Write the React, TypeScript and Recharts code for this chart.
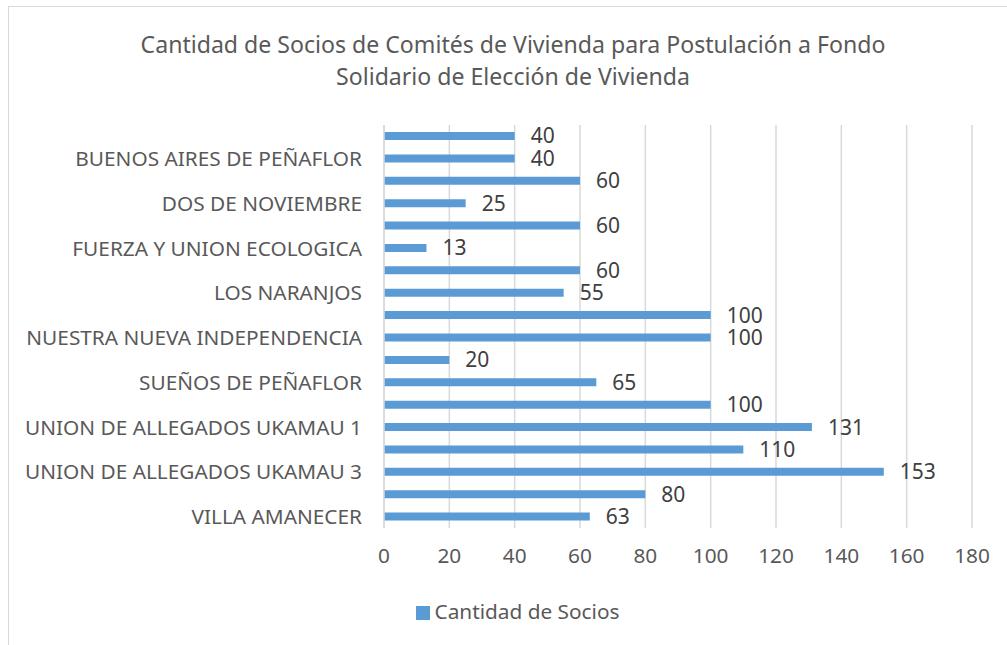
import React from "react";
import { BarChart, Bar, XAxis, YAxis, CartesianGrid, LabelList, Legend } from "recharts";

const categories = [
  "VILLA AMANECER",
  "UNION DE ALLEGADOS UKAMAU 4",
  "UNION DE ALLEGADOS UKAMAU 3",
  "UNION DE ALLEGADOS UKAMAU 2",
  "UNION DE ALLEGADOS UKAMAU 1",
  "UNIDOS POR UN SUEÑO",
  "SUEÑOS DE PEÑAFLOR",
  "PORVENIR",
  "NUESTRA NUEVA INDEPENDENCIA",
  "MI CASA PROPIA",
  "LOS NARANJOS",
  "LA ESPERANZA",
  "FUERZA Y UNION ECOLOGICA",
  "EL ESFUERZO",
  "DOS DE NOVIEMBRE",
  "CAMINO AL HOGAR",
  "BUENOS AIRES DE PEÑAFLOR",
  "ALTOS DE PEÑAFLOR",
];
const socios = [63, 80, 153, 110, 131, 100, 65, 20, 100, 100, 55, 60, 13, 60, 25, 60, 40, 40];
const xTicks = [0, 20, 40, 60, 80, 100, 120, 140, 160, 180];

const data = categories.map((name, i) => ({ name, socios: socios[i] }));

const FONT = "'Noto Sans', sans-serif";

export default function App() {
  return (
    <div style={{ position: "absolute", left: 0, top: 0, width: 1007, height: 645, background: "#fff", fontFamily: FONT, overflow: "hidden" }}>
      <div style={{ position: "absolute", left: 8, top: 6, width: 1010, height: 700, border: "1.5px solid #D9D9D9", boxSizing: "border-box" }} />
      <div style={{ position: "absolute", left: 0, top: 28, width: 1026, textAlign: "center", fontSize: 23.1, lineHeight: "32px", color: "#595959" }}>
        Cantidad de Socios de Comités de Vivienda para Postulación a Fondo
        <br />
        Solidario de Elección de Vivienda
      </div>
      <div style={{ position: "absolute", left: 0, top: 0 }}>
        <BarChart
          width={1007}
          height={645}
          data={data}
          layout="vertical"
          margin={{ top: 125, right: 35, bottom: 29, left: 0 }}
          barCategoryGap={7}
        >
          <CartesianGrid horizontal={false} vertical={true} stroke="#D9D9D9" strokeWidth={1.5} />
          <XAxis
            type="number"
            domain={[0, 180]}
            ticks={xTicks}
            axisLine={false}
            tickLine={false}
            tickMargin={14}
            height={60}
            tick={{ fill: "#595959", fontSize: 20.8, fontFamily: FONT }}
          />
          <YAxis
            type="category"
            dataKey="name"
            reversed
            interval={1}
            width={384}
            axisLine={{ stroke: "#D9D9D9", strokeWidth: 1.5 }}
            tickLine={false}
            tickMargin={16}
            tick={{ fill: "#595959", fontSize: 20.8, fontFamily: FONT }}
          />
          <Legend
            verticalAlign="bottom"
            align="center"
            iconType="square"
            iconSize={14}
            wrapperStyle={{ fontSize: 20.8, fontFamily: FONT, color: "#595959", paddingLeft: 37, bottom: 20 }}
            formatter={(v) => <span style={{ color: "#595959" }}>{v}</span>}
          />
          <Bar dataKey="socios" name="Cantidad de Socios" fill="#5B9BD5" barSize={8} isAnimationActive={false}>
            <LabelList dataKey="socios" position="right" offset={16} fill="#404040" fontSize={21} fontFamily={FONT} />
          </Bar>
        </BarChart>
      </div>
    </div>
  );
}
